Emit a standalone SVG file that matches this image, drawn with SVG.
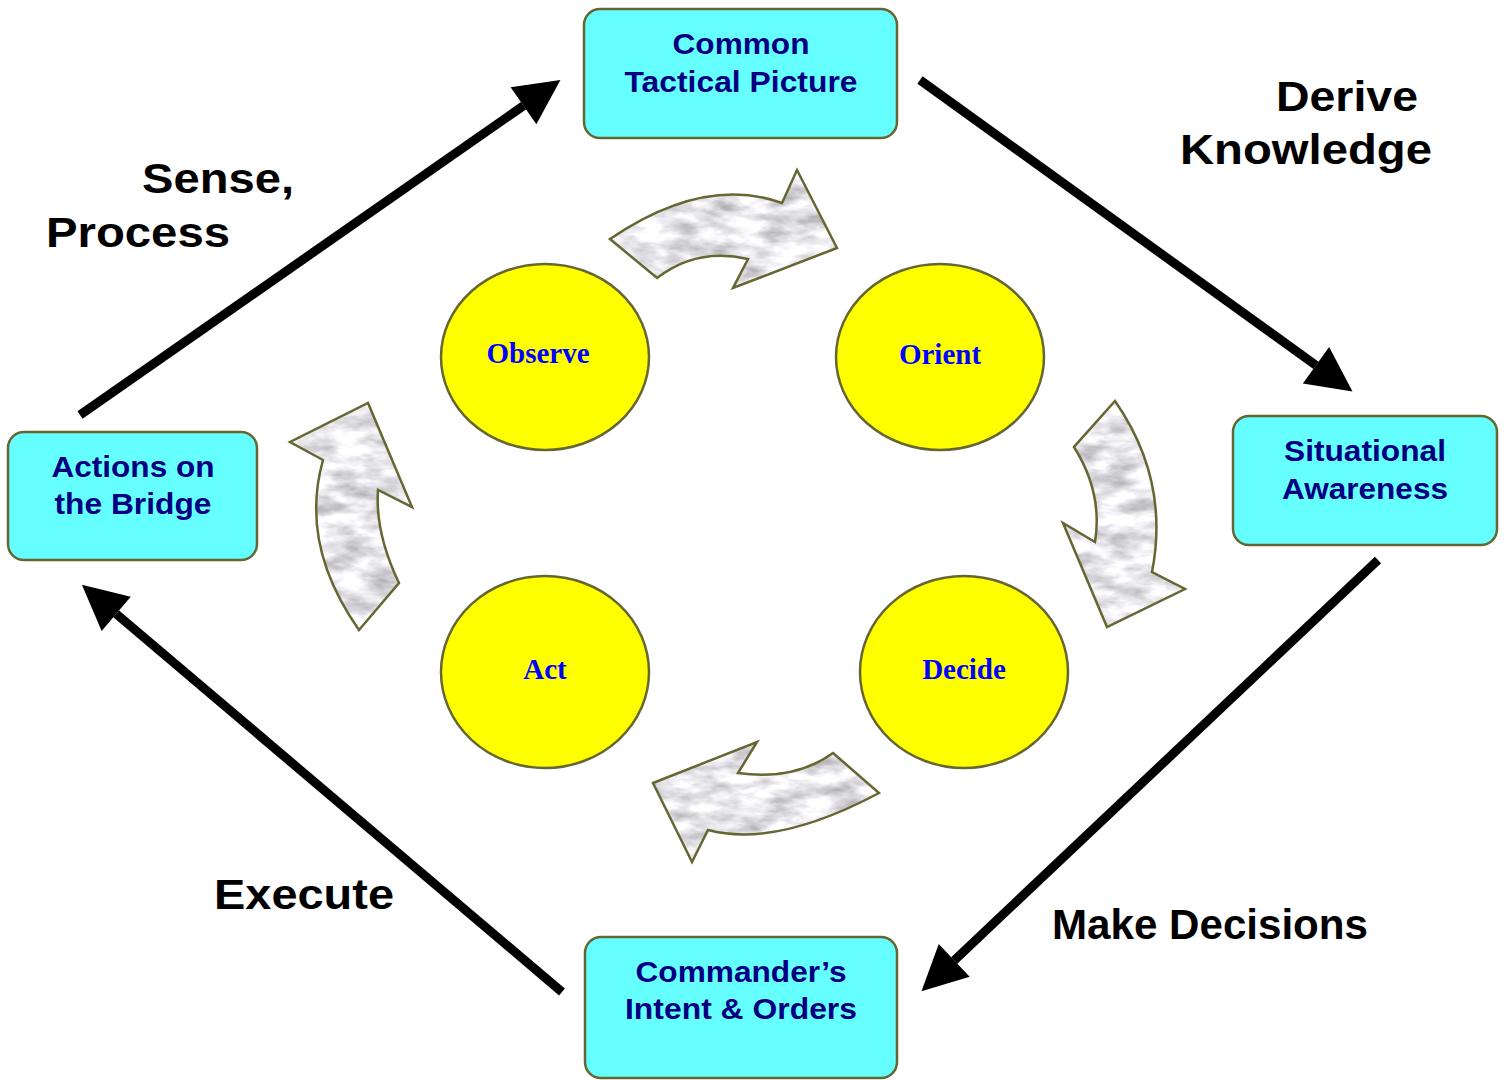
<svg xmlns="http://www.w3.org/2000/svg" width="1504" height="1080" viewBox="0 0 1504 1080">
<style>
.box{fill:#66ffff;stroke:#666633;stroke-width:2.5}
.bt{font-family:"Liberation Sans",Arial,sans-serif;font-weight:bold;font-size:29px;fill:#000080;text-anchor:middle}
.ell{fill:#ffff00;stroke:#666633;stroke-width:2.5}
.et{font-family:"Liberation Serif","Times New Roman",serif;font-weight:bold;font-size:29px;fill:#0000ff;text-anchor:middle}
.lab{font-family:"Liberation Sans",Arial,sans-serif;font-weight:bold;font-size:42px;fill:#000000}
.ln{stroke:#000;stroke-width:9;fill:none;marker-end:url(#ah)}
.cfill{fill:#ffffff;filter:url(#marble)}
.cstroke{fill:none;stroke:#666633;stroke-width:2.5;stroke-linejoin:miter}
</style>
<defs>
<marker id="ah" markerUnits="userSpaceOnUse" markerWidth="46" markerHeight="46" refX="0" refY="22.5" orient="auto" overflow="visible">
<path d="M0,0 L45,22.5 L0,45 Z" fill="#000"/>
</marker>
<filter id="marble" x="0" y="0" width="1" height="1" color-interpolation-filters="sRGB">
<feTurbulence type="fractalNoise" baseFrequency="0.03 0.07" numOctaves="4" seed="7" result="n"/>
<feColorMatrix in="n" type="matrix" values="0.6 0 0 0 0.6  0.6 0 0 0 0.6  0.6 0 0 0 0.62  0 0 0 0 1" result="g"/>
<feComposite in="g" in2="SourceGraphic" operator="in"/>
</filter>
<path id="c1" d="M610,239 Q704,175 782,203 L797,170 L837,248 L733,288 L748,259 Q697,247 657,278 Z"/>
<path id="c2" d="M1115,401 Q1170,480 1152,572 L1185,589 L1107,627 L1063,523 L1095,542 Q1103,493 1074,447 Z"/>
<path id="c3" d="M833,753 L879,793 Q776,848 708,830 L692,862 L653,783 L757,742 L738,773 Q794,781 833,753 Z"/>
<path id="c4" d="M359,630 L399,583 Q375,533 378,490 L412,507 L368,403 L290,442 L323,460 Q299,545 359,630 Z"/>
</defs>
<rect width="1504" height="1080" fill="#ffffff"/>

<g id="connectors">
<line class="ln" x1="80" y1="415" x2="523.5" y2="105.7"/>
<line class="ln" x1="920" y1="80" x2="1316" y2="365.3"/>
<line class="ln" x1="1378" y1="560" x2="954.2" y2="960.4"/>
<line class="ln" x1="562" y1="992" x2="116.2" y2="613.9"/>
<g id="cycle-arrows">
<use href="#c1" class="cfill"/><use href="#c1" class="cstroke"/>
<use href="#c2" class="cfill"/><use href="#c2" class="cstroke"/>
<use href="#c3" class="cfill"/><use href="#c3" class="cstroke"/>
<use href="#c4" class="cfill"/><use href="#c4" class="cstroke"/>
</g>
</g>

<g id="ctp">
<rect class="box" x="584" y="9" width="313" height="129" rx="16"/>
<text class="bt" x="741" y="54" textLength="137" lengthAdjust="spacingAndGlyphs">Common</text>
<text class="bt" x="741" y="92" textLength="233" lengthAdjust="spacingAndGlyphs">Tactical Picture</text>
</g>
<g id="sa">
<rect class="box" x="1233" y="416" width="264" height="129" rx="16"/>
<text class="bt" x="1365" y="461" textLength="162" lengthAdjust="spacingAndGlyphs">Situational</text>
<text class="bt" x="1365" y="499" textLength="166" lengthAdjust="spacingAndGlyphs">Awareness</text>
</g>
<g id="ab">
<rect class="box" x="8" y="432" width="249" height="128" rx="16"/>
<text class="bt" x="133" y="477" textLength="163" lengthAdjust="spacingAndGlyphs">Actions on</text>
<text class="bt" x="133" y="514" textLength="157" lengthAdjust="spacingAndGlyphs">the Bridge</text>
</g>
<g id="cio">
<rect class="box" x="585" y="937" width="312" height="141" rx="16"/>
<text class="bt" x="741" y="982" textLength="211" lengthAdjust="spacingAndGlyphs">Commander’s</text>
<text class="bt" x="741" y="1019" textLength="232" lengthAdjust="spacingAndGlyphs">Intent &amp; Orders</text>
</g>

<g id="observe">
<ellipse class="ell" cx="545" cy="357" rx="104" ry="93"/>
<text class="et" x="538" y="363">Observe</text>
</g>
<g id="orient">
<ellipse class="ell" cx="940" cy="357" rx="104" ry="93"/>
<text class="et" x="940" y="364">Orient</text>
</g>
<g id="act">
<ellipse class="ell" cx="545" cy="672" rx="104" ry="96"/>
<text class="et" x="545" y="679">Act</text>
</g>
<g id="decide">
<ellipse class="ell" cx="964" cy="672" rx="104" ry="96"/>
<text class="et" x="964" y="679">Decide</text>
</g>

<g id="labels">
<text class="lab" x="1276" y="111" textLength="142" lengthAdjust="spacingAndGlyphs">Derive</text>
<text class="lab" x="1180" y="164" textLength="252" lengthAdjust="spacingAndGlyphs">Knowledge</text>
<text class="lab" x="142" y="193" textLength="152" lengthAdjust="spacingAndGlyphs">Sense,</text>
<text class="lab" x="46" y="247" textLength="184" lengthAdjust="spacingAndGlyphs">Process</text>
<text class="lab" x="214" y="909" textLength="180" lengthAdjust="spacingAndGlyphs">Execute</text>
<text class="lab" x="1052" y="939" textLength="316" lengthAdjust="spacingAndGlyphs">Make Decisions</text>
</g>
</svg>
